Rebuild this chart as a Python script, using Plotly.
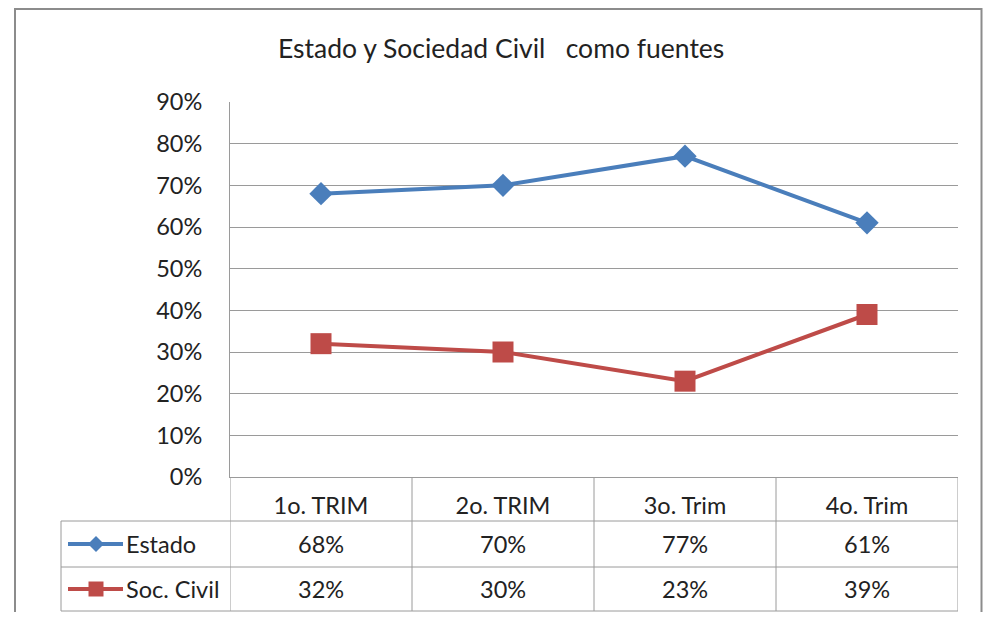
import plotly.graph_objects as go

categories = ["1o. TRIM", "2o. TRIM", "3o. Trim", "4o. Trim"]
estado = [0.68, 0.70, 0.77, 0.61]
soc_civil = [0.32, 0.30, 0.23, 0.39]
series_names = ["Estado", "Soc. Civil"]
title_text = "Estado y Sociedad Civil\u00a0\u00a0 como fuentes"

OFF = 8  # page body margin
W, H = 991 - 2 * OFF, 620 - 2 * OFF
FONT = "Lato, 'Open Sans', sans-serif"
TXT = "#222222"
BLUE = "#4A7EBB"
RED = "#BE4B48"
GRID = "#9a9a9a"
FS = 23.5

def px(x):
    return (x - OFF) / W

def py(y):
    return 1 - (y - OFF) / H

plot_l, plot_r, plot_t, plot_b = 230, 958, 102, 477
table_l = 61
row_lines = [521, 567, 611]
row_centers = [544, 589]

fig = go.Figure()
fig.add_trace(go.Scatter(x=categories, y=estado, mode="lines+markers", name=series_names[0],
                         line=dict(color=BLUE, width=4),
                         marker=dict(symbol="diamond", size=18, color=BLUE)))
fig.add_trace(go.Scatter(x=categories, y=soc_civil, mode="lines+markers", name=series_names[1],
                         line=dict(color=RED, width=4),
                         marker=dict(symbol="square", size=21, color=RED)))

shapes = []
# outer border (clamped to the drawable page area)
shapes.append(dict(type="rect", xref="paper", yref="paper", x0=px(15), x1=(W - 1.5) / W, y0=-0.2, y1=1 - 1.0 / H,
                   line=dict(color="#8c8c8c", width=2)))
# table horizontal lines
for yl in row_lines:
    shapes.append(dict(type="line", xref="paper", yref="paper", x0=px(table_l), x1=px(plot_r), y0=py(yl), y1=py(yl),
                       line=dict(color=GRID, width=1)))
# table left border
shapes.append(dict(type="line", xref="paper", yref="paper", x0=px(table_l), x1=px(table_l), y0=py(row_lines[0]), y1=py(row_lines[-1]),
                   line=dict(color=GRID, width=1)))
# table column lines
for i in range(len(categories) + 1):
    shapes.append(dict(type="line", xref="x", yref="paper", x0=i - 0.5, x1=i - 0.5, y0=py(plot_b), y1=py(row_lines[-1]),
                       line=dict(color=GRID, width=1)))
# legend keys
for col, yc in zip([BLUE, RED], row_centers):
    shapes.append(dict(type="line", xref="paper", yref="paper", x0=px(68), x1=px(123), y0=py(yc), y1=py(yc),
                       line=dict(color=col, width=4)))
cx, cy = 96, row_centers[0]
d = 8
shapes.append(dict(type="path", xref="paper", yref="paper",
                   path=f"M {px(cx - d)} {py(cy)} L {px(cx)} {py(cy - d)} L {px(cx + d)} {py(cy)} L {px(cx)} {py(cy + d)} Z",
                   fillcolor=BLUE, line=dict(color=BLUE, width=0)))
cx, cy = 96, row_centers[1]
s = 7.5
shapes.append(dict(type="rect", xref="paper", yref="paper", x0=px(cx - s), x1=px(cx + s), y0=py(cy + s), y1=py(cy - s),
                   fillcolor=RED, line=dict(color=RED, width=0)))

annotations = []
annotations.append(dict(text=title_text, xref="paper", yref="paper", x=px(501), y=py(48), showarrow=False,
                        font=dict(size=26.5, color=TXT, family=FONT), xanchor="center", yanchor="middle"))
for name, yc in zip(series_names, row_centers):
    annotations.append(dict(text=name, xref="paper", yref="paper", x=px(124), y=py(yc), showarrow=False,
                            font=dict(size=FS, color=TXT, family=FONT), xanchor="left", yanchor="middle"))
for vals, yc in zip([estado, soc_civil], row_centers):
    for cat, v in zip(categories, vals):
        annotations.append(dict(text=f"{round(v * 100)}%", xref="x", yref="paper", x=cat, y=py(yc), showarrow=False,
                                font=dict(size=FS, color=TXT, family=FONT), xanchor="center", yanchor="middle"))

fig.update_layout(
    width=W, height=H,
    margin=dict(l=0, r=0, t=0, b=0, autoexpand=False),
    paper_bgcolor="white", plot_bgcolor="white",
    showlegend=False,
    shapes=shapes,
    annotations=annotations,
    xaxis=dict(domain=[px(plot_l), px(plot_r)], range=[-0.5, 3.5], type="category",
               showgrid=False, zeroline=False, showline=True, linecolor=GRID, linewidth=1,
               ticks="", ticklabelstandoff=8, automargin=False,
               tickfont=dict(size=FS, color=TXT, family=FONT), fixedrange=True),
    yaxis=dict(domain=[py(plot_b), py(plot_t)], range=[0, 0.9], dtick=0.1, tickformat=".0%",
               showgrid=True, gridcolor=GRID, gridwidth=1, zeroline=False,
               showline=True, linecolor=GRID, linewidth=1,
               ticks="", ticklabelstandoff=22, automargin=False,
               tickfont=dict(size=FS, color=TXT, family=FONT), fixedrange=True),
)

fig.write_html("out.html")
